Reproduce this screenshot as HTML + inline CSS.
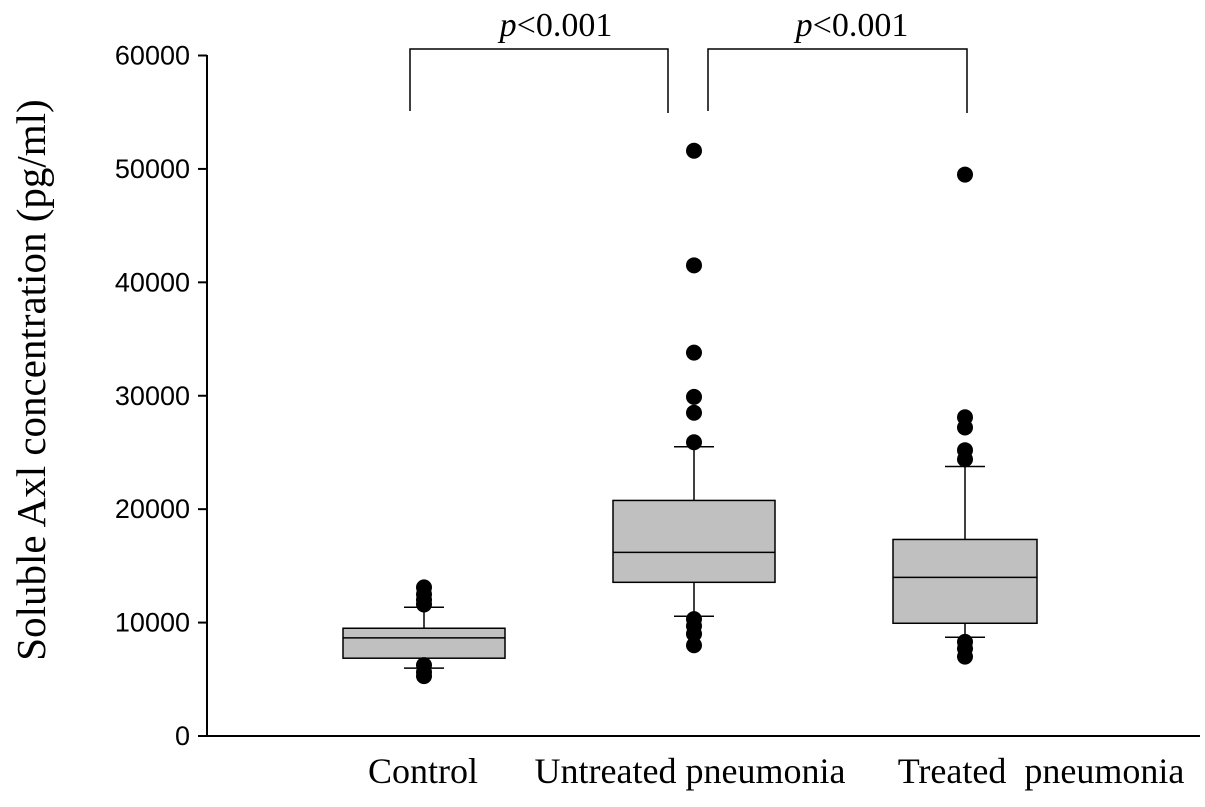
<!DOCTYPE html>
<html><head><meta charset="utf-8"><style>
body{margin:0;background:#fff}
svg text{font-family:"Liberation Sans",sans-serif}
</style></head><body>
<svg id="chart" width="1205" height="802" xmlns="http://www.w3.org/2000/svg"></svg>
<script>
const categories=["Control","Untreated pneumonia","Treated  pneumonia"];
const q1=[6860,13550,9940];
const medians=[8650,16190,13990];
const q3=[9500,20770,17330];
const whiskerLow=[5980,10560,8710];
const whiskerHigh=[11350,25500,23760];
const outliers=[[13100,12500,12000,11600,6250,5630,5280],[51600,41500,33800,29900,28500,25900,10300,9700,9000,8000],[49500,28100,27200,25200,24400,8300,7700,7000]];
const yTicks=[0,10000,20000,30000,40000,50000,60000];
const centers=[424,694,965];
const labelCenters=[423,690,1041];
const NS="http://www.w3.org/2000/svg";
const svg=document.getElementById('chart');
const y=v=>736-v*(736-55.5)/60000;
function el(t,a,p){const e=document.createElementNS(NS,t);for(const k in a)e.setAttribute(k,a[k]);(p||svg).appendChild(e);return e;}
let ax=el('line',{x1:207,y1:55,x2:207,y2:736.5,stroke:'#000','stroke-width':2});


let bx=el('line',{x1:206,y1:736,x2:1200,y2:736,stroke:'#000','stroke-width':2});


yTicks.forEach(v=>{
 const t=el('line',{x1:198,x2:207,y1:y(v),y2:y(v),stroke:'#000','stroke-width':2});
 
 
 const l=el('text',{x:190,y:y(v)+9,'text-anchor':'end','font-size':27});
 l.textContent=v;
 
 
});
const yt=el('text',{transform:'translate(45,380) rotate(-90)','text-anchor':'middle','font-size':41,style:'font-family:"Liberation Serif",serif'});
yt.textContent='Soluble Axl concentration (pg/ml)';


const hw=[81,81,72];
categories.forEach((c,i)=>{
 const cx=centers[i];
 const g=el('g',{});
 
 
 el('line',{x1:cx,x2:cx,y1:y(whiskerHigh[i]),y2:y(q3[i]),stroke:'#000','stroke-width':1.5},g);
 el('line',{x1:cx,x2:cx,y1:y(q1[i]),y2:y(whiskerLow[i]),stroke:'#000','stroke-width':1.5},g);
 el('line',{x1:cx-20,x2:cx+20,y1:y(whiskerHigh[i]),y2:y(whiskerHigh[i]),stroke:'#000','stroke-width':1.5},g);
 el('line',{x1:cx-20,x2:cx+20,y1:y(whiskerLow[i]),y2:y(whiskerLow[i]),stroke:'#000','stroke-width':1.5},g);
 el('rect',{x:cx-hw[i],y:y(q3[i]),width:2*hw[i],height:y(q1[i])-y(q3[i]),fill:'#c0c0c0',stroke:'#000','stroke-width':1.5},g);
 el('line',{x1:cx-hw[i],x2:cx+hw[i],y1:y(medians[i]),y2:y(medians[i]),stroke:'#000','stroke-width':1.5},g);
 outliers[i].forEach(v=>{
  const d=el('circle',{cx:cx,cy:y(v),r:8,fill:'#000'},g);
  
  
 });
 const l=el('text',{x:labelCenters[i],y:783,'text-anchor':'middle','font-size':36,style:'font-family:"Liberation Serif",serif;white-space:pre'});
 l.textContent=c;
 
 
});
[[410,668,556],[708,967,852]].forEach(b=>{
 const p=el('path',{d:`M${b[0]},111 V49 H${b[1]} V113`,fill:'none',stroke:'#000','stroke-width':1.5});
 
 
 const t=el('text',{x:b[2],y:36,'text-anchor':'middle','font-size':34,style:'font-family:"Liberation Serif",serif'});
 t.innerHTML='<tspan font-style="italic">p</tspan>&lt;0.001';
 
 
});
</script>
</body></html>
